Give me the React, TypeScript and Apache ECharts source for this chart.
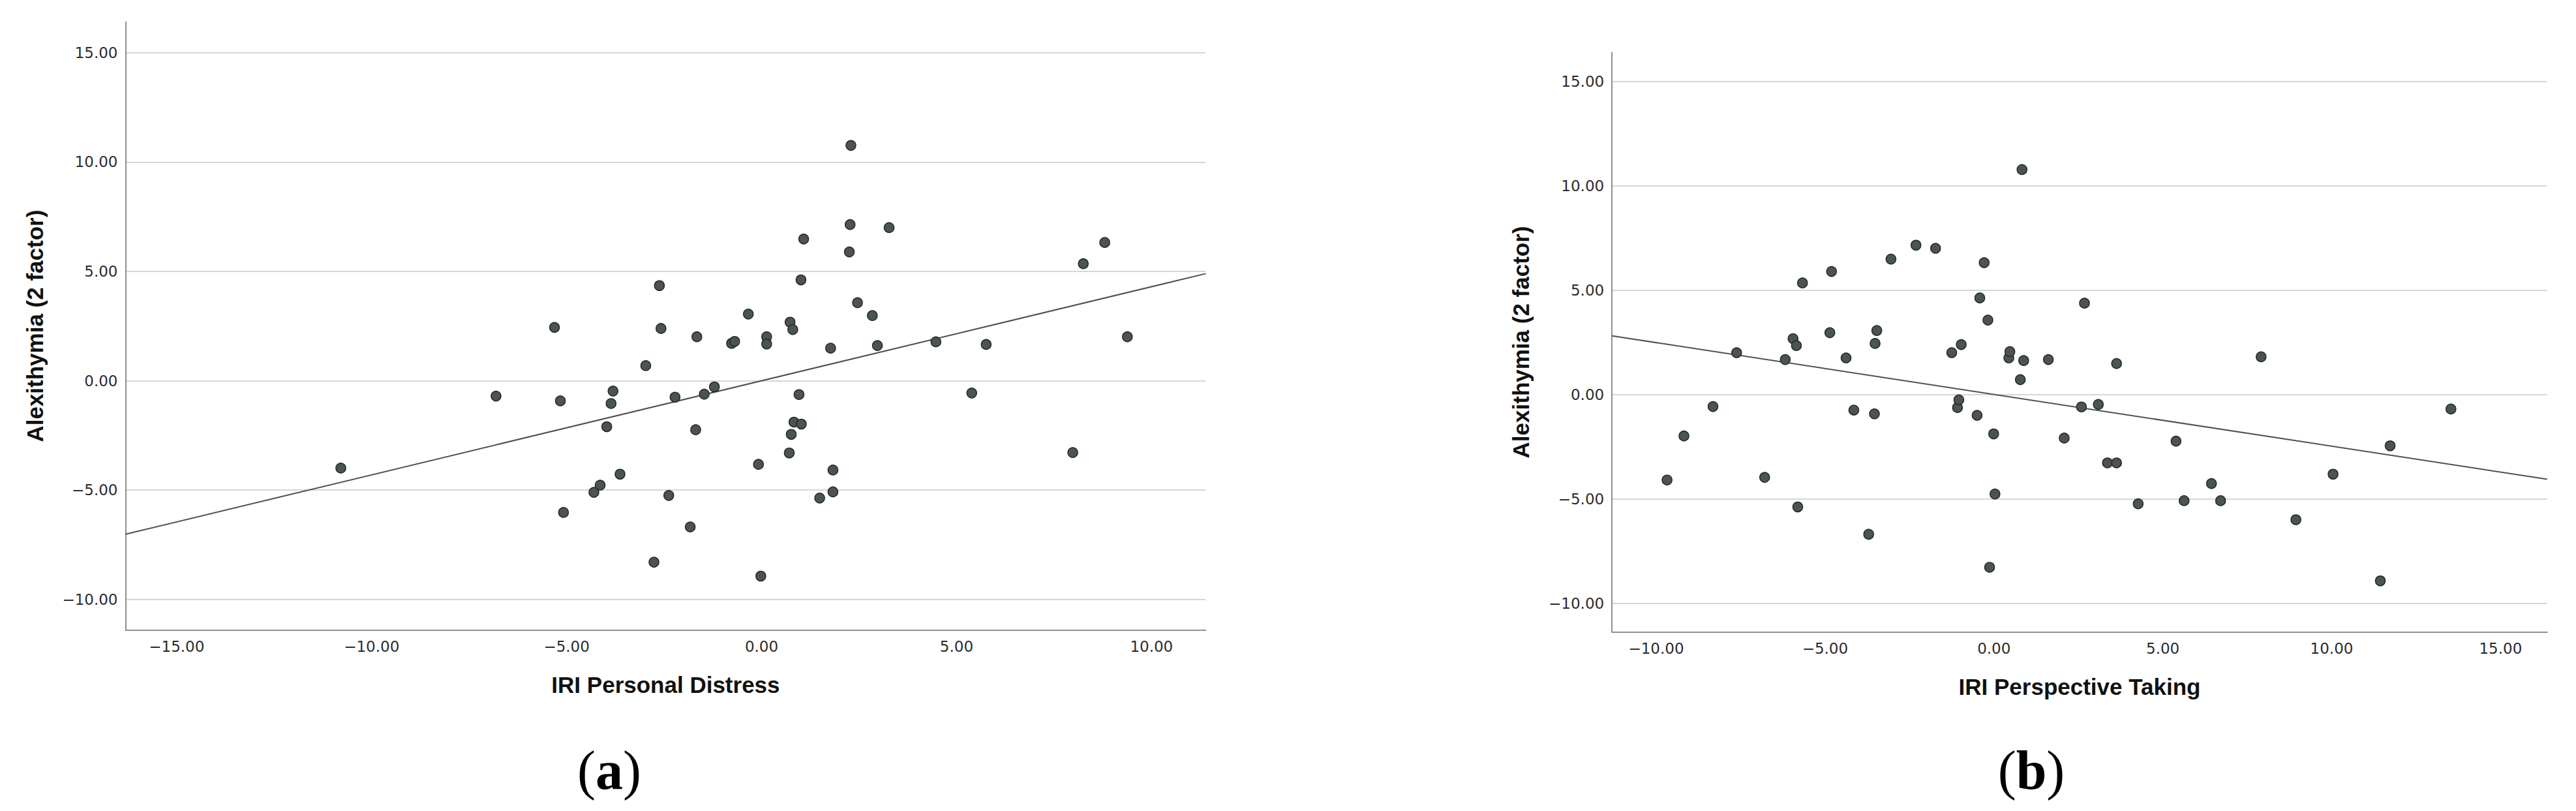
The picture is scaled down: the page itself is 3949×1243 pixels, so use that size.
import React, { useEffect, useRef } from "react";
import * as echarts from "echarts";

// ---- Data ----
const LEFT_X = [-10.79, -6.81, -5.31, -5.16, -5.08, -4.3, -4.14, -3.97, -3.86, -3.81, -3.63, -2.97, -2.76, -2.62, -2.58, -2.38, -2.22, -1.83, -1.69, -1.66, -1.47, -1.21, -0.77, -0.69, -0.34, -0.08, -0.02, 0.13, 0.13, 0.71, 0.73, 0.76, 0.8, 0.83, 0.96, 1.01, 1.02, 1.08, 1.49, 1.77, 1.83, 1.83, 2.25, 2.27, 2.29, 2.46, 2.84, 2.97, 3.27, 4.47, 5.39, 5.76, 7.98, 8.25, 8.8, 9.38];
const LEFT_Y = [-3.99, -0.7, 2.44, -0.92, -6.02, -5.1, -4.77, -2.1, -1.04, -0.47, -4.27, 0.69, -8.29, 4.35, 2.39, -5.24, -0.75, -6.68, -2.24, 2.01, -0.61, -0.28, 1.71, 1.8, 3.05, -3.82, -8.93, 2.01, 1.68, -3.3, 2.68, -2.45, 2.34, -1.89, -0.63, 4.61, -1.98, 6.48, -5.36, 1.49, -4.08, -5.08, 5.89, 7.14, 10.76, 3.57, 2.98, 1.61, 7.0, 1.78, -0.56, 1.66, -3.28, 5.35, 6.32, 2.01];

const RIGHT_X = [-9.68, -9.18, -8.32, -7.62, -6.79, -6.18, -5.95, -5.85, -5.81, -5.67, -4.86, -4.81, -4.38, -4.15, -3.71, -3.54, -3.52, -3.47, -3.05, -2.31, -1.73, -1.25, -1.08, -1.04, -0.97, -0.5, -0.42, -0.29, -0.18, -0.13, -0.01, 0.03, 0.44, 0.47, 0.78, 0.83, 0.88, 1.61, 2.08, 2.59, 2.68, 3.09, 3.36, 3.63, 3.63, 4.27, 5.39, 5.63, 6.44, 6.71, 7.91, 8.94, 10.04, 11.44, 11.73, 13.53];
const RIGHT_Y = [-4.1, -1.99, -0.58, 2.0, -3.97, 1.67, 2.67, 2.34, -5.39, 5.34, 2.96, 5.89, 1.75, -0.75, -6.7, -0.93, 2.44, 3.06, 6.48, 7.15, 7.0, 2.0, -0.63, -0.26, 2.39, -1.0, 4.62, 6.31, 3.56, -8.28, -1.89, -4.77, 1.75, 2.05, 0.71, 10.77, 1.62, 1.67, -2.09, -0.6, 4.37, -0.48, -3.28, -3.28, 1.48, -5.24, -2.24, -5.09, -4.27, -5.09, 1.8, -6.0, -3.82, -8.93, -2.46, -0.7];

const LEFT_X_TICKS = [-15, -10, -5, 0, 5, 10];
const RIGHT_X_TICKS = [-10, -5, 0, 5, 10, 15];
const Y_TICKS = [-10, -5, 0, 5, 10, 15];

const LEFT_X_RANGE = [-16.31, 11.39];
const LEFT_Y_RANGE = [-11.39, 16.4];
const RIGHT_X_RANGE = [-11.31, 16.38];
const RIGHT_Y_RANGE = [-11.375, 16.38];

const LEFT_FIT = { slope: 0.43, intercept: 0 };
const RIGHT_FIT = { slope: -0.248, intercept: 0 };

const LEFT_X_TITLE = "IRI Personal Distress";
const RIGHT_X_TITLE = "IRI Perspective Taking";
const Y_TITLE = "Alexithymia (2 factor)";
const PANEL_LABELS = ["a", "b"];

// ---- Styles ----
const TICK_FONT = "DejaVu Sans";
const TITLE_FONT = "Liberation Sans";
const fmt = (v: number) => (v < 0 ? "\u2212" : "") + Math.abs(v).toFixed(2);

function xAxisOpt(gridIndex: number, range: number[], ticks: number[], name: string) {
  return {
    type: "value",
    gridIndex,
    min: range[0],
    max: range[1],
    name,
    nameLocation: "middle",
    nameGap: 66,
    nameTextStyle: { fontFamily: TITLE_FONT, fontWeight: "bold", fontSize: 35, color: "#111" },
    axisLine: { show: true, onZero: false, lineStyle: { color: "#8f8f8f", width: 2 } },
    axisTick: { show: false, customValues: ticks },
    axisLabel: {
      customValues: ticks,
      formatter: fmt,
      fontFamily: TICK_FONT,
      fontSize: 23,
      color: "#2b2b2b",
      margin: 14,
    },
    splitLine: { show: false },
  };
}

function yAxisOpt(gridIndex: number, range: number[], ticks: number[], name: string) {
  return {
    type: "value",
    gridIndex,
    min: range[0],
    max: range[1],
    name,
    nameLocation: "middle",
    nameGap: 122,
    nameTextStyle: { fontFamily: TITLE_FONT, fontWeight: "bold", fontSize: 35, color: "#111" },
    axisLine: { show: true, onZero: false, lineStyle: { color: "#8f8f8f", width: 2 } },
    axisTick: { show: false, customValues: ticks },
    axisLabel: {
      customValues: ticks,
      formatter: fmt,
      fontFamily: TICK_FONT,
      fontSize: 23,
      color: "#2b2b2b",
      margin: 12,
    },
    splitLine: { show: true, lineStyle: { color: "#d6d6d6", width: 2 } },
  };
}

function scatter(idx: number, xs: number[], ys: number[]) {
  return {
    type: "scatter",
    xAxisIndex: idx,
    yAxisIndex: idx,
    data: xs.map((x, i) => [x, ys[i]]),
    symbol: "circle",
    symbolSize: 15,
    itemStyle: { color: "#4b5550", borderColor: "#262626", borderWidth: 1.5, opacity: 1 },
    z: 5,
  };
}

function fitLine(idx: number, range: number[], fit: { slope: number; intercept: number }) {
  return {
    type: "line",
    xAxisIndex: idx,
    yAxisIndex: idx,
    data: range.map((x) => [x, fit.intercept + fit.slope * x]),
    showSymbol: false,
    symbol: "none",
    lineStyle: { color: "#505050", width: 2 },
    z: 3,
    silent: true,
  };
}

function panelLabel(letter: string, x: number, y: number) {
  return {
    type: "text",
    x,
    y,
    style: {
      text: `{p|(}{b|${letter}}{p|)}`,
      align: "center",
      verticalAlign: "middle",
      rich: {
        p: { fontFamily: "Liberation Serif", fontSize: 84, fontWeight: "normal", fill: "#000" },
        b: { fontFamily: "Liberation Serif", fontSize: 84, fontWeight: "bold", fill: "#000" },
      },
    },
  };
}

export default function App() {
  const ref = useRef<HTMLDivElement>(null);
  useEffect(() => {
    document.body.style.margin = "0";
    if (!ref.current) return;
    const chart = echarts.init(ref.current, undefined, { renderer: "svg" });
    chart.setOption({
      animation: false,
      backgroundColor: "#ffffff",
      grid: [
        { left: 192.5, top: 33.7, width: 1655.9, height: 931.8, containLabel: false, outerBoundsMode: "none" },
        { left: 2471.2, top: 80.4, width: 1433.6, height: 888.1, containLabel: false, outerBoundsMode: "none" },
      ],
      xAxis: [
        xAxisOpt(0, LEFT_X_RANGE, LEFT_X_TICKS, LEFT_X_TITLE),
        xAxisOpt(1, RIGHT_X_RANGE, RIGHT_X_TICKS, RIGHT_X_TITLE),
      ],
      yAxis: [
        yAxisOpt(0, LEFT_Y_RANGE, Y_TICKS, Y_TITLE),
        yAxisOpt(1, RIGHT_Y_RANGE, Y_TICKS, Y_TITLE),
      ],
      series: [
        fitLine(0, LEFT_X_RANGE, LEFT_FIT),
        scatter(0, LEFT_X, LEFT_Y),
        fitLine(1, RIGHT_X_RANGE, RIGHT_FIT),
        scatter(1, RIGHT_X, RIGHT_Y),
      ],
      graphic: [panelLabel(PANEL_LABELS[0], 934, 1180), panelLabel(PANEL_LABELS[1], 3114, 1180)],
    });
    return () => chart.dispose();
  }, []);
  return <div ref={ref} style={{ width: 3949, height: 1243 }} />;
}
